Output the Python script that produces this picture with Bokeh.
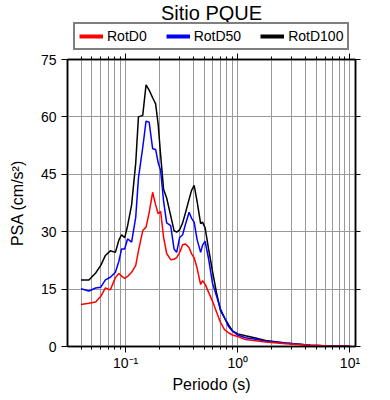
from bokeh.plotting import figure
from bokeh.layouts import column
from bokeh.models import (Range1d, LogAxis, LinearAxis, FixedTicker, LogTicker,
                          Legend, LegendItem, CustomJSTickFormatter, ColumnDataSource)
from bokeh.core.properties import value
from bokeh.embed import file_html
from bokeh.resources import INLINE

# Periods (s)
periodo = [0.040, 0.047, 0.054, 0.060, 0.066, 0.073, 0.081, 0.087, 0.092, 0.098,
           0.104, 0.113, 0.123, 0.130, 0.142, 0.152, 0.162, 0.174, 0.185, 0.195,
           0.205, 0.218, 0.232, 0.252, 0.270, 0.285, 0.303, 0.322, 0.342, 0.368,
           0.387, 0.408, 0.433, 0.466, 0.485, 0.511, 0.548, 0.595, 0.646, 0.701,
           0.761, 0.826, 0.897, 1.00, 1.17, 1.44, 1.77, 2.66, 4.44, 6.69, 10.0]

rotd100 = [17.4, 17.4, 19.2, 21.2, 23.8, 25.0, 24.6, 27.8, 29.2, 28.4,
           31.5, 37.0, 48.0, 60.0, 60.4, 68.4, 67.0, 65.0, 63.4, 58.0,
           50.0, 41.0, 38.8, 34.2, 30.3, 29.9, 30.5, 32.3, 35.0, 38.5,
           40.8, 42.1, 38.0, 32.1, 32.5, 31.0, 25.6, 19.6, 14.0, 9.4,
           7.5, 5.7, 4.1, 3.3, 2.8, 2.2, 1.6, 0.9, 0.35, 0.15, 0.05]

rotd50 = [15.1, 14.5, 15.3, 15.5, 17.4, 18.1, 19.4, 22.3, 25.5, 25.5,
          28.1, 27.3, 33.8, 44.0, 52.0, 58.9, 58.6, 51.7, 51.5, 48.0,
          46.0, 37.9, 32.3, 31.6, 25.5, 24.6, 28.5, 29.2, 32.0, 35.1,
          33.5, 32.5, 28.0, 24.6, 26.5, 27.5, 23.0, 16.5, 13.2, 9.8,
          7.5, 5.2, 4.0, 3.0, 2.3, 1.9, 1.4, 0.9, 0.35, 0.15, 0.05]

rotd0 = [11.0, 11.3, 11.6, 13.1, 15.3, 14.8, 18.0, 19.1, 18.4, 17.8,
         18.3, 19.4, 21.2, 25.0, 30.3, 31.2, 35.0, 40.3, 37.0, 34.7,
         35.3, 28.5, 24.3, 22.7, 22.8, 23.2, 24.6, 26.6, 26.8, 25.8,
         24.2, 23.2, 20.5, 16.2, 17.2, 16.3, 14.2, 11.8, 9.0, 6.3,
         4.4, 3.6, 3.0, 2.6, 1.8, 1.5, 1.2, 0.7, 0.3, 0.12, 0.05]

y_ticks = [0, 15, 30, 45, 60, 75]
series_names = ["RotD0", "RotD50", "RotD100"]
series_colors = ["#ff0000", "#0000ff", "#000000"]
title_text = "Sitio PQUE"

FONT = "Liberation Sans"
series_values = [rotd0, rotd50, rotd100]

# ---------- header: title + legend (frame aligned with the main plot) ----------
HEAD_H = 50
head = figure(width=390, height=HEAD_H, x_range=Range1d(0, 1), y_range=Range1d(1, 0),
              output_backend="svg", toolbar_location=None,
              x_axis_location=None, y_axis_location=None,
              min_border_left=67, min_border_right=35, min_border_top=0, min_border_bottom=0)
head.grid.visible = False
head.outline_line_color = None
head.text(x=[0.5], y=[0.25], text=[title_text], text_align="center", text_baseline="middle",
          text_font=value(FONT), text_font_size="20px", text_color="black")
# legend swatches: the series drawn thick, outside the header's visible range
swatches = [head.line(periodo, vals, line_color=c, line_width=4)
            for c, vals in zip(series_colors, series_values)]
legend = Legend(items=[LegendItem(label=n, renderers=[s]) for n, s in zip(series_names, swatches)],
                orientation="horizontal", location=(6, 0),
                label_text_font=FONT, label_text_font_size="14px", label_text_color="black",
                glyph_width=24, glyph_height=14, label_height=14,
                label_standoff=4, spacing=19,
                padding=4, margin=0,
                border_line_color="black", border_line_width=2)
head.add_layout(legend, "center")

# ---------- main plot ----------
p = figure(width=390, height=400 - HEAD_H, x_axis_type="log",
           x_range=Range1d(0.0303, 11.2), y_range=Range1d(0, 75),
           output_backend="svg", toolbar_location=None,
           min_border_left=67, min_border_right=35, min_border_top=9, min_border_bottom=54)

src = ColumnDataSource(dict(t=periodo, d0=rotd0, d50=rotd50, d100=rotd100))
r100 = p.line("t", "d100", source=src, line_color=series_colors[2], line_width=1.5)
r50 = p.line("t", "d50", source=src, line_color=series_colors[1], line_width=1.5)
r0 = p.line("t", "d0", source=src, line_color=series_colors[0], line_width=1.5)

sup = CustomJSTickFormatter(code="""
const m = {'-':'\\u207b','0':'\\u2070','1':'\\u00b9','2':'\\u00b2','3':'\\u00b3'};
const e = String(Math.round(Math.log10(tick)));
let s = '';
for (const c of e) s += (m[c] || c);
return '10' + s;
""")

xa = p.xaxis[0]
xa.ticker = LogTicker(num_minor_ticks=10)
xa.formatter = sup
xa.axis_label = "Periodo (s)"
ya = p.yaxis[0]
ya.ticker = FixedTicker(ticks=y_ticks)
ya.axis_label = "PSA (cm/s\u00b2)"

for ax in (xa, ya):
    ax.axis_label_text_font = FONT
    ax.axis_label_text_font_size = "16px"
    ax.axis_label_text_font_style = "normal"
    ax.major_label_text_font = FONT
    ax.major_label_text_font_size = "14px"
    ax.major_label_text_color = "black"
    ax.axis_label_text_color = "black"
    ax.axis_line_width = 1.5
    ax.major_tick_line_width = 1
    ax.minor_tick_line_width = 1
    ax.major_tick_out = 6
    ax.major_tick_in = 0
    ax.minor_tick_out = 3
    ax.minor_tick_in = 0
    ax.axis_line_color = "black"
ya.minor_tick_line_color = None
xa.major_label_standoff = 2
xa.axis_label_standoff = 2
ya.axis_label_standoff = 12

top = LogAxis(ticker=LogTicker(num_minor_ticks=10), major_label_text_alpha=0,
              major_label_text_font_size="2px",
              major_tick_out=6, major_tick_in=0, minor_tick_out=3, minor_tick_in=0,
              axis_line_width=1.5, major_label_standoff=0)
p.add_layout(top, "above")
right = LinearAxis(ticker=FixedTicker(ticks=y_ticks), major_label_text_alpha=0,
                   major_label_text_font_size="2px",
                   major_tick_out=5, major_tick_in=0, minor_tick_line_color=None,
                   axis_line_width=1.5, major_label_standoff=0)
p.add_layout(right, "right")

p.xgrid.ticker = LogTicker(num_minor_ticks=10)
p.xgrid.grid_line_color = "#999999"
p.xgrid.minor_grid_line_color = "#999999"
p.xgrid.grid_line_width = 1
p.ygrid.ticker = FixedTicker(ticks=y_ticks)
p.ygrid.grid_line_color = "#999999"
p.outline_line_color = "black"
p.outline_line_width = 1.5

layout = column(head, p, spacing=0)
open("out.html", "w").write(file_html(layout, INLINE))
